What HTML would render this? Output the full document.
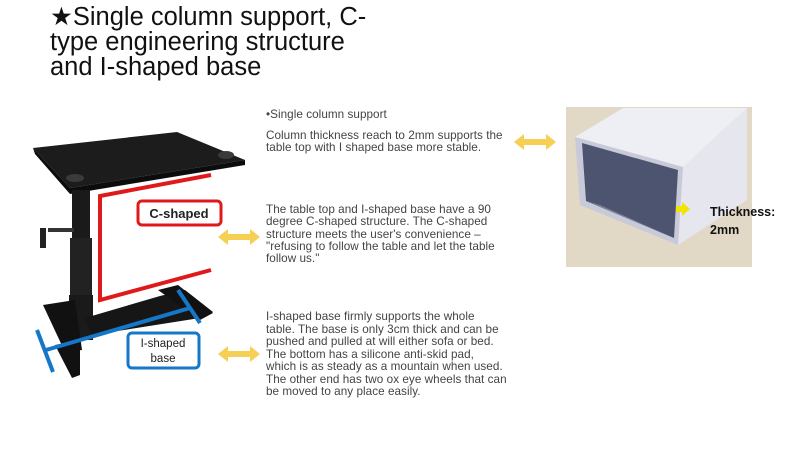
<!DOCTYPE html>
<html><head><meta charset="utf-8"><style>
html,body{margin:0;padding:0;background:#fff;}
#c{position:relative;width:800px;height:449px;overflow:hidden;font-family:"Liberation Sans",sans-serif;}
.t{position:absolute;left:50px;top:5px;font-size:25.5px;line-height:25px;color:#111;}
.p{position:absolute;left:266px;font-size:11.7px;line-height:12.3px;color:#444;white-space:nowrap;letter-spacing:0.05px;}
</style></head><body><div id="c">
<div class="t">★Single column support, C-<br>type engineering structure<br>and I-shaped base</div>
<div class="p" style="top:109px">•Single column support</div>
<div class="p" style="top:130px">Column thickness reach to 2mm supports the<br>table top with I shaped base more stable.</div>
<div class="p" style="top:204px">The table top and I-shaped base have a 90<br>degree C-shaped structure. The C-shaped<br>structure meets the user's convenience –<br>"refusing to follow the table and let the table<br>follow us."</div>
<div class="p" style="top:311px;line-height:12.5px">I-shaped base firmly supports the whole<br>table. The base is only 3cm thick and can be<br>pushed and pulled at will either sofa or bed.<br>The bottom has a silicone anti-skid pad,<br>which is as steady as a mountain when used.<br>The other end has two ox eye wheels that can<br>be moved to any place easily.</div>
<svg width="800" height="449" style="position:absolute;left:0;top:0">
<g fill="#f6cf55">
<polygon points="514,142 524,134 524,139 546,139 546,134 556,142 546,150 546,145 524,145 524,150"/>
<polygon points="218,237 228,229 228,234 250,234 250,229 260,237 250,245 250,240 228,240 228,245"/>
<polygon points="218,354 228,346 228,351 250,351 250,346 260,354 250,362 250,357 228,357 228,362"/>
</g>
<polygon points="33,148 177,132 245,160 70,188" fill="#1c1c1c"/>
<polygon points="33,148 70,188 245,160 245,165 70,194 35,154" fill="#0c0c0c"/>
<ellipse cx="75" cy="178" rx="9" ry="4" fill="#3a3a3a"/><ellipse cx="226" cy="155" rx="8" ry="4" fill="#3a3a3a"/>
<rect x="72" y="190" width="18" height="50" fill="#1a1a1a"/>
<rect x="70" y="238" width="22" height="60" fill="#222"/>
<rect x="69" y="295" width="24" height="45" fill="#1a1a1a"/>
<rect x="48" y="228" width="26" height="4" fill="#333"/>
<rect x="40" y="228" width="6" height="20" fill="#222"/>
<polygon points="43,305 75,300 82,350 65,352" fill="#111"/>
<polygon points="55,345 80,340 80,375 72,378" fill="#111"/>
<polygon points="85,318 160,296 185,290 213,312 200,318 92,335" fill="#161616"/>
<polygon points="158,290 178,285 213,313 200,320" fill="#111"/>
<g stroke="#e01a1a" stroke-width="4" fill="none">
<polyline points="211,175 100,196 100,300 211,270"/>
</g>
<rect x="138" y="201" width="83" height="24" rx="4" fill="#fff" stroke="#e01a1a" stroke-width="3"/>
<text x="179" y="218" font-size="13" font-weight="bold" text-anchor="middle" fill="#222" font-family="Liberation Sans,sans-serif">C-shaped</text>
<g stroke="#1577c8" stroke-width="4" fill="none">
<line x1="37" y1="330" x2="53" y2="372"/>
<line x1="46" y1="350" x2="190" y2="308"/>
<line x1="178" y1="290" x2="200" y2="323"/>
</g>
<rect x="128" y="333" width="71" height="35" rx="4" fill="#fff" stroke="#1577c8" stroke-width="3"/>
<text x="163" y="347" font-size="11.5" text-anchor="middle" fill="#222" font-family="Liberation Sans,sans-serif">I-shaped</text>
<text x="163" y="362" font-size="11.5" text-anchor="middle" fill="#222" font-family="Liberation Sans,sans-serif">base</text>
<rect x="566" y="107" width="186" height="160" fill="#e2d8c6"/>
<polygon points="575,137 623,108 747,108 683,167" fill="#eeeef5"/>
<polygon points="683,167 747,108 747,200 678,245" fill="#e6e6ee"/>
<polygon points="575,137 683,167 678,245 580,205" fill="#c9cad9"/>
<polygon points="582,143 678,170 674,238 586,201" fill="#4d5470"/>
<polygon points="586,201 674,238 600,205" fill="#7a7f99"/>
<polygon points="676,206 682,206 682,202 690,209 682,216 682,212 676,212" fill="#f0e400"/>
<text x="710" y="216" font-size="12.5" font-weight="bold" fill="#111" font-family="Liberation Sans,sans-serif">Thickness:</text>
<text x="710" y="234" font-size="12.5" font-weight="bold" fill="#111" font-family="Liberation Sans,sans-serif">2mm</text>
</svg>
</div></body></html>
